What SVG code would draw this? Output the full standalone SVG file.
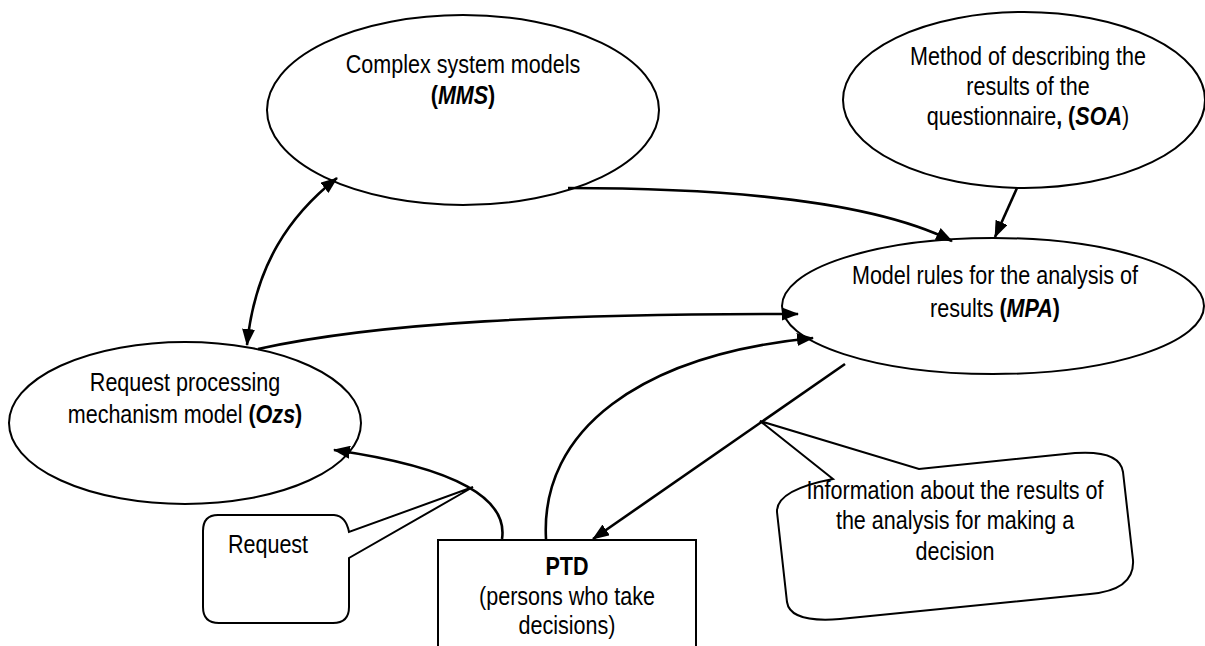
<svg xmlns="http://www.w3.org/2000/svg" width="1205" height="646" viewBox="0 0 1205 646">
  <style>
    .shape { fill: #ffffff; stroke: #000000; stroke-width: 2; }
    /* condensed sans: regular face squeezed horizontally per line */
    .label { font-family: "Liberation Sans", Arial, sans-serif; font-size: 25.5px; fill: #000000; text-anchor: middle; }
    .bi { font-weight: bold; font-style: italic; }
    .b { font-weight: bold; }
    .link { fill: none; stroke: #000000; stroke-width: 2.6; }
  </style>
  <defs>
    <marker id="arrow" viewBox="0 0 17 13" refX="16" refY="6.5" markerWidth="17" markerHeight="13" markerUnits="userSpaceOnUse" orient="auto-start-reverse">
      <path d="M0,0 L17,6.5 L0,13 Z" fill="#000000"/>
    </marker>
  </defs>

  <rect x="0" y="0" width="1205" height="646" fill="#ffffff"/>

  <!-- Complex system models -->
  <g id="mms">
    <ellipse class="shape" cx="463" cy="110" rx="196" ry="95"/>
    <text class="label" transform="translate(463 73) scale(0.845 1)">Complex system models</text>
    <text class="label" transform="translate(463 104) scale(0.845 1)"><tspan class="b">(</tspan><tspan class="bi">MMS</tspan><tspan class="b">)</tspan></text>
  </g>

  <!-- Questionnaire description method -->
  <g id="soa">
    <ellipse class="shape" cx="1024" cy="100" rx="181" ry="88"/>
    <text class="label" transform="translate(1028 65) scale(0.845 1)">Method of describing the</text>
    <text class="label" transform="translate(1028 95) scale(0.845 1)">results of the</text>
    <text class="label" transform="translate(1028 125) scale(0.845 1)">questionnaire<tspan class="b">, (</tspan><tspan class="bi">SOA</tspan>)</text>
  </g>

  <!-- Analysis rules -->
  <g id="mpa">
    <ellipse class="shape" cx="993" cy="306" rx="211" ry="68"/>
    <text class="label" transform="translate(995 284) scale(0.845 1)">Model rules for the analysis of</text>
    <text class="label" transform="translate(995 317) scale(0.845 1)">results <tspan class="b">(</tspan><tspan class="bi">MPA</tspan><tspan class="b">)</tspan></text>
  </g>

  <!-- Request processing -->
  <g id="ozs">
    <ellipse class="shape" cx="185" cy="423" rx="176" ry="81"/>
    <text class="label" transform="translate(185 391) scale(0.845 1)">Request processing</text>
    <text class="label" transform="translate(185 423) scale(0.845 1)">mechanism model <tspan class="b">(</tspan><tspan class="bi">Ozs</tspan><tspan class="b">)</tspan></text>
  </g>

  <!-- Decision makers -->
  <g id="ptd">
    <rect class="shape" x="438" y="540" width="258" height="125"/>
    <text class="label b" transform="translate(567 575) scale(0.845 1)">PTD</text>
    <text class="label" transform="translate(567 605) scale(0.845 1)">(persons who take</text>
    <text class="label" transform="translate(567 634) scale(0.845 1)">decisions)</text>
  </g>

  <!-- Request callout -->
  <g id="request">
    <path class="shape" d="M 218 515 L 334 515 Q 346 516 349 532 L 473 487 L 349 558 L 349 607 Q 349 623 333 623 L 219 623 Q 203 623 203 607 L 203 531 Q 203 515 218 515 Z"/>
    <text class="label" transform="translate(268 553) scale(0.845 1)">Request</text>
  </g>

  <!-- Analysis result callout -->
  <g id="info">
    <path class="shape" d="M 833 479 L 760 421 L 919 469 L 1075 453 Q 1120 450 1123 472 L 1133 560 Q 1135 590 1090 594 L 840 619 Q 790 623 787 602 L 777 512 Q 776 490 833 479 Z"/>
    <text class="label" transform="translate(955 499) scale(0.845 1)">Information about the results of</text>
    <text class="label" transform="translate(955 529) scale(0.845 1)">the analysis for making a</text>
    <text class="label" transform="translate(955 560) scale(0.845 1)">decision</text>
  </g>

  <!-- Connectors -->
  <g id="connectors">
    <path class="link" d="M 337 178 C 290 215 255 265 247 345" marker-start="url(#arrow)" marker-end="url(#arrow)"/>
    <path class="link" d="M 568 188 C 720 188 870 200 952 241" marker-end="url(#arrow)"/>
    <path class="link" d="M 1017 188 L 995 237" marker-end="url(#arrow)"/>
    <path class="link" d="M 258 349 C 380 322 560 314 798 314" marker-end="url(#arrow)"/>
    <path class="link" d="M 546 539 C 540 430 640 355 813 338" marker-end="url(#arrow)"/>
    <path class="link" d="M 845 364 L 593 539" marker-end="url(#arrow)"/>
    <path class="link" d="M 502 539 C 508 500 460 468 334 450" marker-end="url(#arrow)"/>
  </g>
</svg>
